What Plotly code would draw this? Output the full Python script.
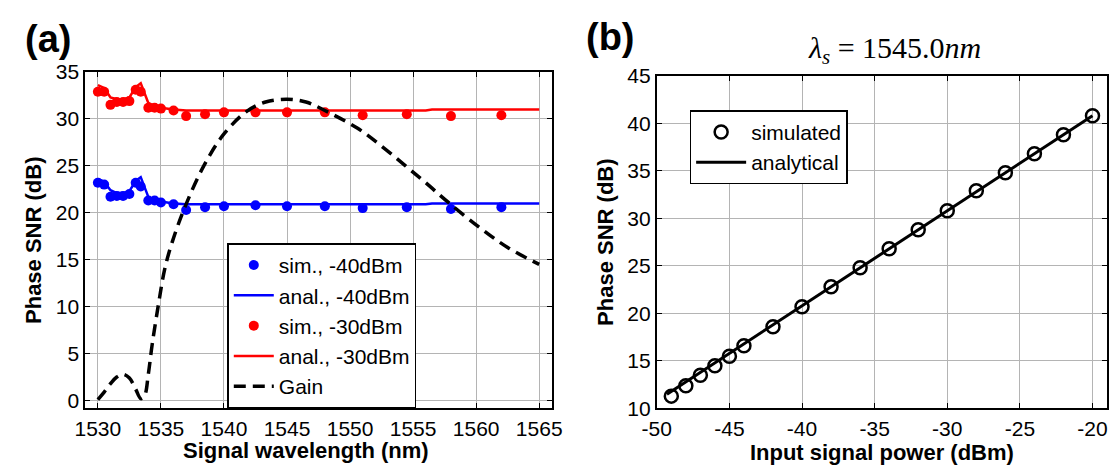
import plotly.graph_objects as go

# ---- panel (a): phase SNR vs signal wavelength ----
sim_wl = [1530, 1530.5, 1531, 1531.5, 1532, 1532.5, 1533, 1533.4, 1534, 1534.5, 1535,
          1536, 1537, 1538.5, 1540, 1542.5, 1545, 1548, 1551, 1554.5, 1558, 1562]
sim_40 = [23.2, 23.0, 21.7, 21.8, 21.8, 22.0, 23.2, 22.8, 21.3, 21.3, 21.1,
          20.9, 20.3, 20.6, 20.7, 20.8, 20.7, 20.7, 20.5, 20.6, 20.4, 20.6]
sim_30 = [32.9, 32.9, 31.5, 31.8, 31.8, 31.9, 33.1, 32.9, 31.2, 31.2, 31.1,
          30.9, 30.3, 30.5, 30.7, 30.7, 30.7, 30.7, 30.4, 30.5, 30.3, 30.4]

anal_wl = [1530, 1530.5, 1531, 1531.5, 1532, 1532.5, 1533, 1533.4, 1534, 1534.5, 1535,
           1536, 1537, 1538.5, 1540, 1545, 1550, 1556, 1556.5, 1565]
anal_40 = [23.6, 23.3, 22.4, 22.1, 22.1, 22.3, 23.4, 23.8, 21.7, 21.4, 21.2,
           21.0, 20.9, 20.9, 20.9, 20.9, 20.9, 20.9, 21.0, 21.0]
anal_30 = [33.6, 33.3, 32.3, 32.1, 32.1, 32.3, 33.4, 33.8, 31.7, 31.4, 31.2,
           31.0, 30.9, 30.9, 30.9, 30.9, 30.9, 30.9, 31.0, 31.0]

gain_wl = [1530, 1530.5, 1531, 1531.5, 1532, 1532.5, 1533, 1533.4, 1533.7, 1534, 1534.3,
           1534.8, 1535.3, 1535.9, 1536.9, 1538.4, 1540, 1541.8, 1543.3, 1545, 1546.5,
           1548, 1550.6, 1552.5, 1554.4, 1556, 1557.8, 1560.4, 1562.5, 1565]
gain = [0.1, 0.9, 1.8, 2.5, 2.8, 2.4, 1.2, 0.2, 0.5, 2.8, 5.9,
        10.2, 14.0, 16.9, 20.6, 25.0, 28.4, 30.8, 31.8, 32.1, 31.8,
        30.9, 29.0, 27.1, 25.0, 23.2, 21.1, 18.3, 16.3, 14.5]

wl_ticks = [1530, 1535, 1540, 1545, 1550, 1555, 1560, 1565]

# ---- panel (b): phase SNR vs input signal power ----
power = [-49, -48, -47, -46, -45, -44, -42, -40, -38, -36, -34, -32, -30, -28, -26, -24, -22, -20]
snr_sim = [11.3, 12.4, 13.5, 14.5, 15.5, 16.6, 18.6, 20.7, 22.8, 24.8, 26.8, 28.8, 30.8,
           32.9, 34.8, 36.8, 38.8, 40.8]
anal_power = [-49.3, -20]
snr_anal = [11.5, 40.8]

power_ticks = [-50, -45, -40, -35, -30, -25, -20]
power_labels = ["-50", "-45", "-40", "-35", "-30", "-25", "-20"]

# the page body keeps its default 8px margin, so the figure is drawn 8px in from
# the window corner; size it to fit and place everything in window pixels
OFF = 8
W, H = 1118 - OFF, 473 - OFF


def px(x):
    return (x - OFF) / W


def py(y):
    return 1 - (y - OFF) / H


FONT = "Liberation Sans, Arial, sans-serif"

fig = go.Figure()

fig.add_trace(go.Scatter(x=sim_wl, y=sim_40, mode="markers", name="sim., -40dBm",
                         marker=dict(color="#0000ff", size=10)))
fig.add_trace(go.Scatter(x=anal_wl, y=anal_40, mode="lines", name="anal., -40dBm",
                         line=dict(color="#0000ff", width=2.5)))
fig.add_trace(go.Scatter(x=sim_wl, y=sim_30, mode="markers", name="sim., -30dBm",
                         marker=dict(color="#ff0000", size=10)))
fig.add_trace(go.Scatter(x=anal_wl, y=anal_30, mode="lines", name="anal., -30dBm",
                         line=dict(color="#ff0000", width=2.5)))
fig.add_trace(go.Scatter(x=gain_wl, y=gain, mode="lines", name="Gain",
                         line=dict(color="black", width=3.5, dash="12px,7px", shape="spline")))

fig.add_trace(go.Scatter(x=anal_power, y=snr_anal, mode="lines", name="analytical",
                         line=dict(color="black", width=3), xaxis="x2", yaxis="y2",
                         legend="legend2", showlegend=False))
fig.add_trace(go.Scatter(x=power, y=snr_sim, mode="markers", name="simulated",
                         marker=dict(symbol="circle-open", color="black", size=13,
                                     line=dict(width=2.5)),
                         xaxis="x2", yaxis="y2", legend="legend2"))
# legend entry for the line, listed after the markers
fig.add_trace(go.Scatter(x=[None], y=[None], mode="lines", name="analytical",
                         line=dict(color="black", width=3), xaxis="x2", yaxis="y2",
                         legend="legend2"))

axis_style = dict(showline=True, linecolor="black", linewidth=2, mirror="ticks",
                  ticks="inside", ticklen=5, tickcolor="black", showgrid=True,
                  gridcolor="#b4b4b4", gridwidth=1, zeroline=False,
                  ticklabeloverflow="allow",
                  tickfont=dict(family=FONT, size=21, color="black"))
title_font = dict(family=FONT, size=22, color="black", weight="bold")

fig.update_layout(
    width=W, height=H,
    margin=dict(l=0, r=0, t=0, b=0),
    paper_bgcolor="white", plot_bgcolor="white",
    font=dict(family=FONT, color="black"),
    xaxis=dict(axis_style, domain=[px(71.7), px(549)], range=[1529, 1566],
               tickvals=wl_ticks, anchor="y"),
    yaxis=dict(axis_style, domain=[py(416.7), py(62.7)], range=[-0.85, 35], dtick=5,
               title=dict(text="Phase SNR (dB)", font=title_font, standoff=8),
               anchor="x"),
    xaxis2=dict(axis_style, domain=[px(656.4), px(1117)], range=[-50, -19],
                tickvals=power_ticks, ticktext=power_labels,
                title=dict(text="Input signal power (dBm)", font=title_font, standoff=2),
                anchor="y2"),
    yaxis2=dict(axis_style, domain=[py(416.7), py(66.7)], range=[10, 45], dtick=5,
                title=dict(text="Phase SNR (dB)", font=title_font, standoff=8),
                anchor="x2"),
    legend=dict(x=px(217), y=py(243), xanchor="left", yanchor="top",
                bgcolor="white", bordercolor="black", borderwidth=1.5,
                font=dict(family=FONT, size=21, color="black"),
                tracegroupgap=0, itemwidth=40),
    legend2=dict(x=px(690), y=py(103), xanchor="left", yanchor="top",
                 bgcolor="white", bordercolor="black", borderwidth=1.5,
                 font=dict(family=FONT, size=21, color="black"),
                 tracegroupgap=0, itemwidth=50),
    showlegend=True,
)

fig.add_annotation(text="Signal wavelength (nm)", x=px(298), y=py(446),
                   xref="paper", yref="paper", xanchor="center", yanchor="top",
                   showarrow=False, font=title_font)
fig.add_annotation(text="<b>(a)</b>", x=px(8), y=py(4), xref="paper", yref="paper",
                   xanchor="left", yanchor="top", showarrow=False,
                   font=dict(family=FONT, size=38, color="black"))
fig.add_annotation(text="<b>(b)</b>", x=px(582), y=py(2), xref="paper", yref="paper",
                   xanchor="left", yanchor="top", showarrow=False,
                   font=dict(family=FONT, size=38, color="black"))
fig.add_annotation(text="<i>λ</i><sub><i>s</i></sub>&nbsp;=&nbsp;1545.0<i>nm</i>",
                   x=px(900), y=py(40), xref="paper", yref="paper",
                   xanchor="center", yanchor="middle", showarrow=False,
                   font=dict(family="Liberation Serif, Times New Roman, serif", size=30,
                             color="black"))

fig.write_html("out.html")
